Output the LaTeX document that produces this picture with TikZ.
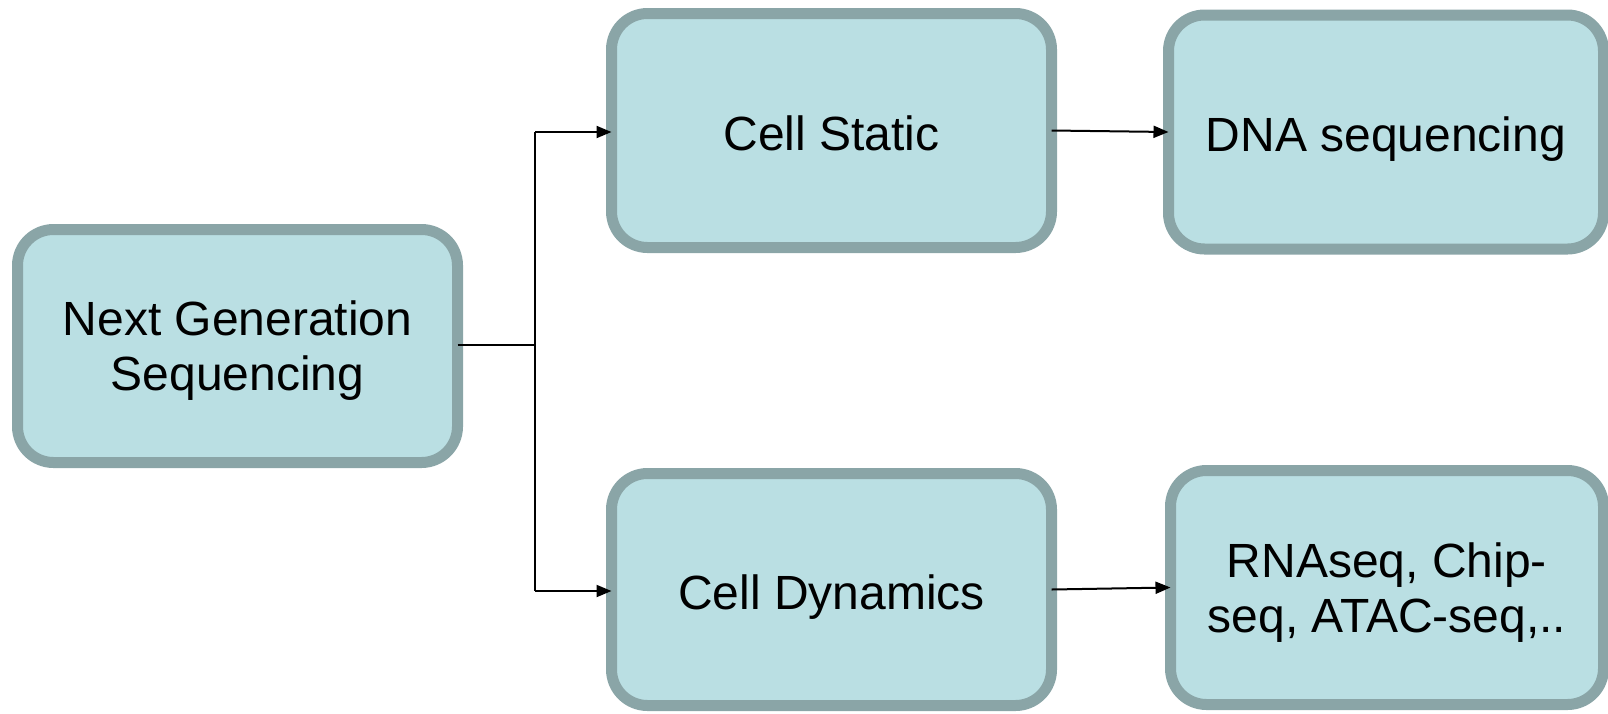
\documentclass[tikz,border=0pt]{standalone}
\usepackage{fontspec}
\setmainfont{Liberation Sans}
\usetikzlibrary{arrows.meta}
\definecolor{boxfill}{RGB}{186,223,227}
\definecolor{boxline}{RGB}{138,165,167}
\newcommand\firststrut{\rule{0pt}{44pt}}
\tikzset{
  stage/.style={draw=boxline, fill=boxfill, line width=11pt, rounded corners=36pt,
    minimum width=440pt, minimum height=233pt, align=center, inner sep=0pt, outer sep=0pt,
    font=\fontsize{48}{55}\selectfont},
  oneline/.style={stage, text height=45pt, text depth=6pt},
  link/.style={line width=2pt, black},
  arrowlink/.style={link, -{Triangle[length=15pt, width=12pt]}}
}
\begin{document}
\begin{tikzpicture}[x=1pt, y=1pt]
  \useasboundingbox (0,0) rectangle (1608,-713);
  \node[stage] (ngs) at (237.5,-346) {\firststrut Next Generation\\Sequencing};
  \node[oneline, minimum height=234pt] (cs) at (831.5,-130.5) {Cell Static};
  \node[oneline, minimum width=435pt, minimum height=234pt] (dna) at (1386,-132) {DNA sequencing};
  \node[oneline, minimum height=232pt] (cd) at (831.5,-589.5) {Cell Dynamics};
  \node[stage, minimum width=433pt, minimum height=234pt] (rna) at (1387,-587.5) {\firststrut RNAseq, Chip-\\seq, ATAC-seq,..};
  % branching trunk
  \coordinate (mid) at (535,-345);
  \coordinate (top) at (535,-132);
  \coordinate (bot) at (535,-591);
  \draw[link] (ngs.east |- mid) -- (mid);
  \draw[link] (top) -- (bot);
  \draw[arrowlink] (top) -- (cs.west |- top);
  \draw[arrowlink] (bot) -- (cd.west |- bot);
  \draw[arrowlink] (cs.east) -- (dna.west);
  \draw[arrowlink] (cd.east) -- (rna.west);
\end{tikzpicture}
\end{document}
